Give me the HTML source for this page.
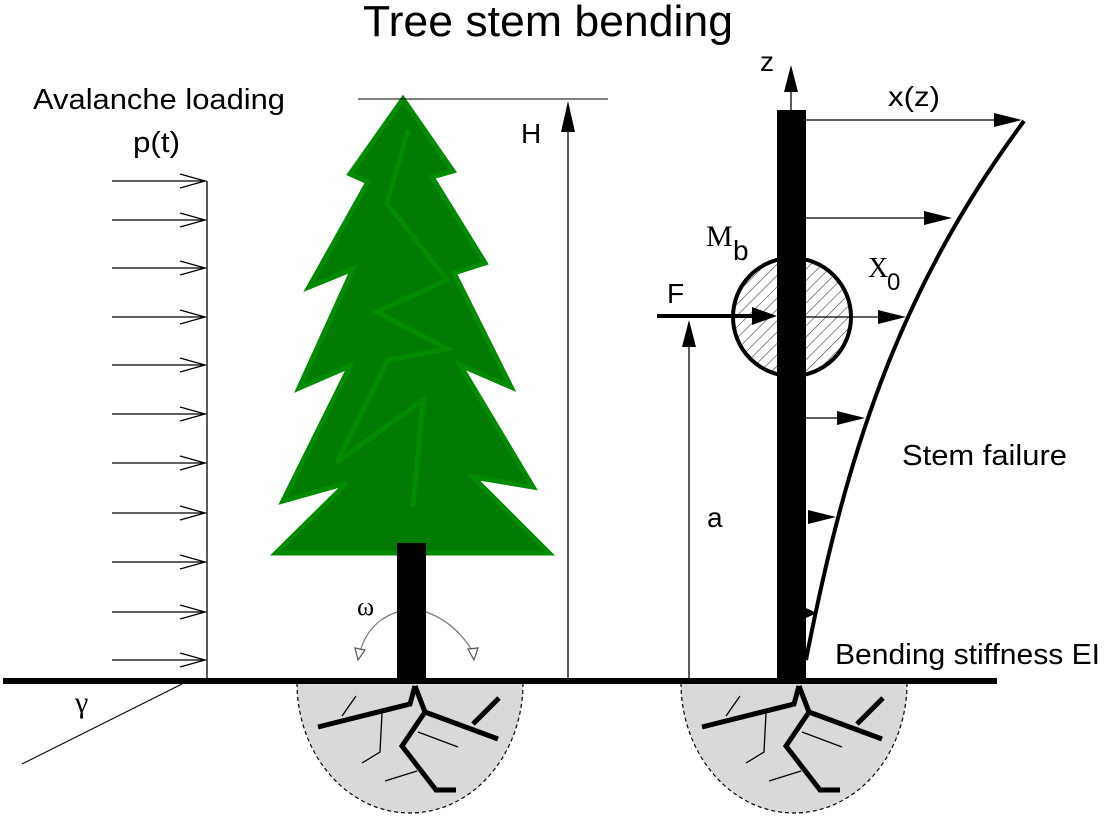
<!DOCTYPE html>
<html><head><meta charset="utf-8"><style>
html,body{margin:0;padding:0;background:#fff;}
svg{display:block;}
text{font-family:"Liberation Sans",Arial,sans-serif;fill:#000;}
.serif{font-family:"Liberation Serif","Times New Roman",serif;}
</style></head><body>
<svg width="1113" height="824" viewBox="0 0 1113 824" xmlns="http://www.w3.org/2000/svg">
<defs>
<pattern id="hatch" width="8" height="8" patternUnits="userSpaceOnUse" patternTransform="rotate(45)">
<rect width="8" height="8" fill="#fff"/>
<line x1="0" y1="0" x2="0" y2="8" stroke="#333" stroke-width="1.1"/>
</pattern>
</defs>

<!-- Title -->
<text x="363" y="36" font-size="44" textLength="370" lengthAdjust="spacingAndGlyphs">Tree stem bending</text>

<!-- Avalanche loading -->
<text x="33" y="109" font-size="29" textLength="252" lengthAdjust="spacingAndGlyphs">Avalanche loading</text>
<text x="133" y="152" font-size="29" textLength="47" lengthAdjust="spacingAndGlyphs">p(t)</text>

<g stroke="#000" stroke-width="1.3" fill="none">
<line x1="207" y1="181" x2="207" y2="681"/>
<g id="la">
<line x1="112" y1="181" x2="205" y2="181"/>
<polyline points="180,174 205,181 180,188"/>
</g>
<use href="#la" y="39"/>
<use href="#la" y="87"/>
<use href="#la" y="136"/>
<use href="#la" y="184"/>
<use href="#la" y="233"/>
<use href="#la" y="282"/>
<use href="#la" y="332"/>
<use href="#la" y="381"/>
<use href="#la" y="431"/>
<use href="#la" y="479"/>
</g>

<!-- gamma line -->
<line x1="182" y1="684" x2="22" y2="764" stroke="#000" stroke-width="1.1"/>
<text class="serif" x="75" y="712" font-size="30">γ</text>

<!-- root zones -->
<g>
<path d="M297 683 A113 130 0 0 0 523 683 Z" fill="#d9d9d9" stroke="#000" stroke-width="1.2" stroke-dasharray="4 3"/>
<g stroke="#000" stroke-width="5" fill="none">
<polyline points="415,686 410,704 318,727"/>
<polyline points="415,686 425,712 498,739"/>
<polyline points="425,712 402,746 436,790 456,790"/>
<line x1="473" y1="724" x2="499" y2="698"/>
</g>
<g stroke="#000" stroke-width="1.3" fill="none">
<line x1="342" y1="716" x2="356" y2="696"/>
<polyline points="382,713 380,752 362,763"/>
<line x1="418" y1="732" x2="458" y2="747"/>
<line x1="385" y1="781" x2="417" y2="771"/>
</g>
</g>
<g transform="translate(384,0)">
<path d="M297 683 A113 130 0 0 0 523 683 Z" fill="#d9d9d9" stroke="#000" stroke-width="1.2" stroke-dasharray="4 3"/>
<g stroke="#000" stroke-width="5" fill="none">
<polyline points="415,686 410,704 318,727"/>
<polyline points="415,686 425,712 498,739"/>
<polyline points="425,712 402,746 436,790 456,790"/>
<line x1="473" y1="724" x2="499" y2="698"/>
</g>
<g stroke="#000" stroke-width="1.3" fill="none">
<line x1="342" y1="716" x2="356" y2="696"/>
<polyline points="382,713 380,752 362,763"/>
<line x1="418" y1="732" x2="458" y2="747"/>
<line x1="385" y1="781" x2="417" y2="771"/>
</g>
</g>

<!-- ground -->
<line x1="3" y1="681" x2="997" y2="681" stroke="#000" stroke-width="6"/>

<!-- Tree -->
<polygon points="403,99 453,171 432,177 485,263 454,273 511,387 460,365 533,487 473,477 549,553 276,553 347,483 283,501 350,366 299,388 353,269 309,287 368,182 350,174" fill="#007a00" stroke="#008b00" stroke-width="5" stroke-linejoin="miter"/>
<polyline points="408,130 387,203 447,280 377,312 447,349 388,360 337,462 423,400 413,507" fill="none" stroke="#008b00" stroke-width="5"/>
<rect x="397" y="543" width="29" height="140" fill="#000"/>

<!-- omega arcs -->
<g stroke="#777" stroke-width="1.2" fill="none">
<path d="M397 612 Q368 622 360 652"/>
<path d="M426 612 Q455 622 473 652"/>
<polygon points="355,648 365,650 358,660" fill="#fff" stroke="#555"/>
<polygon points="468,649 478,648 474,660" fill="#fff" stroke="#555"/>
</g>
<text class="serif" x="357" y="615" font-size="26">ω</text>

<!-- H -->
<line x1="358" y1="99" x2="608" y2="99" stroke="#000" stroke-width="1"/>
<line x1="568" y1="128" x2="568" y2="681" stroke="#000" stroke-width="1.3"/>
<polygon points="568,101 561,132 575,132" fill="#000"/>
<text x="521" y="143" font-size="28">H</text>

<!-- a -->
<line x1="689" y1="345" x2="689" y2="681" stroke="#000" stroke-width="1.3"/>
<polygon points="689,320 682,347 696,347" fill="#000"/>
<text x="707" y="527" font-size="28">a</text>

<!-- cross-section circle -->
<circle cx="792" cy="317" r="59" fill="url(#hatch)" stroke="#000" stroke-width="4"/>

<!-- right stem -->
<rect x="777" y="110" width="29" height="574" fill="#000"/>
<line x1="791" y1="90" x2="791" y2="110" stroke="#000" stroke-width="1.3"/>
<polygon points="791,65 784,92 798,92" fill="#000"/>
<text x="760" y="71" font-size="28">z</text>

<!-- deflection curve -->
<path d="M1024 121 C898 291, 846 455, 806 660" fill="none" stroke="#000" stroke-width="4"/>

<!-- deflection arrows -->
<g stroke="#000" stroke-width="1.3">
<line x1="806" y1="120" x2="996" y2="120"/>
<line x1="806" y1="218" x2="926" y2="218"/>
<line x1="806" y1="317" x2="880" y2="317"/>
<line x1="806" y1="418" x2="839" y2="418"/>
</g>
<g fill="#000">
<polygon points="1022,120 994,113 994,127"/>
<polygon points="952,218 924,211 924,225"/>
<polygon points="906,317 878,310 878,324"/>
<polygon points="865,418 837,411 837,425"/>
<polygon points="836,517 808,510 808,524"/>
<polygon points="817,613 806,608 806,618"/>
</g>

<!-- F arrow -->
<line x1="657" y1="316" x2="755" y2="316" stroke="#000" stroke-width="4"/>
<polygon points="777,316 752,307 752,325" fill="#000"/>
<text x="667" y="303" font-size="28">F</text>

<!-- labels -->
<text class="serif" x="706" y="246" font-size="30">M</text>
<text x="733" y="260" font-size="28">b</text>
<text class="serif" x="868" y="277" font-size="28">X</text>
<text x="887" y="290" font-size="24">0</text>
<text x="888" y="106" font-size="28" textLength="52" lengthAdjust="spacingAndGlyphs">x(z)</text>
<text x="902" y="465" font-size="29" textLength="165" lengthAdjust="spacingAndGlyphs">Stem failure</text>
<text x="835" y="664" font-size="29" textLength="265" lengthAdjust="spacingAndGlyphs">Bending stiffness EI</text>
</svg>
</body></html>
